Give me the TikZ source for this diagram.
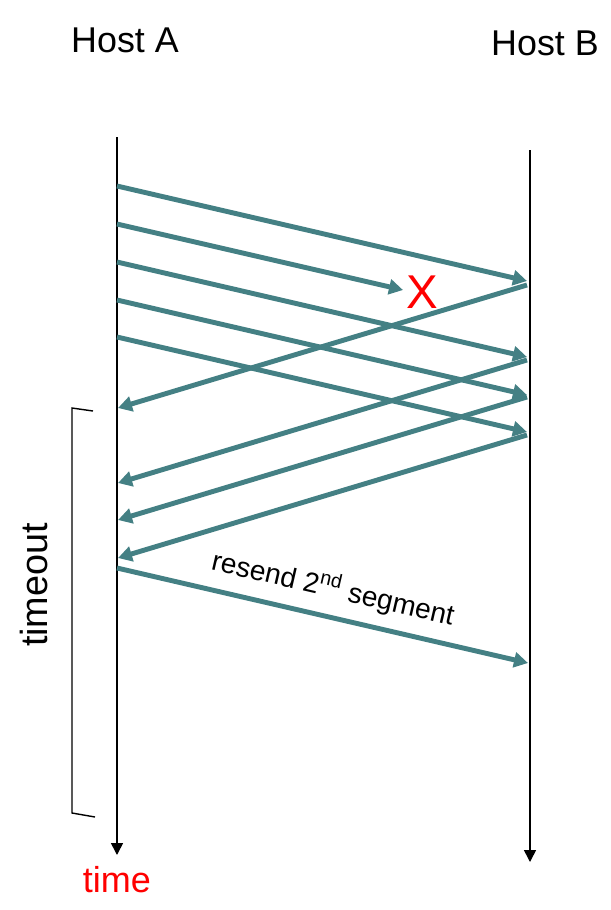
\documentclass[tikz,border=0pt]{standalone}
\usepackage{fontspec}
\setmainfont{Liberation Sans}
\usetikzlibrary{arrows.meta}
\definecolor{segteal}{RGB}{68,128,132}

\begin{document}
\begin{tikzpicture}[x=0.02cm, y=-0.02cm,
  lifeline/.style={line width=0.9pt, -{Triangle[length=0.24cm, width=0.24cm]}},
  seg/.style={draw=segteal, line width=2.8pt, -{Triangle[length=0.28cm, width=0.3cm]}},
  hostlbl/.style={font=\fontsize{20.4}{24}\selectfont}]
  \useasboundingbox (0,0) rectangle (610,910);

  % Hosts
  \node[hostlbl] (hA) at (125,40) {Host A};
  \node[hostlbl] (hB) at (545,43) {Host B};

  % Lifelines
  \coordinate (aTop) at (117,137);
  \coordinate (aEnd) at (117,855);
  \coordinate (bTop) at (530,150);
  \coordinate (bEnd) at (530,862);
  \draw[lifeline] (aTop) -- (aEnd);
  \draw[lifeline] (bTop) -- (bEnd);
  \node[text=red, font=\fontsize{20.5}{24}\selectfont] (tm) at (117,880) {time};

  % Segments A -> B
  \coordinate (s1) at (117,186);  \coordinate (r1) at (527,281);
  \coordinate (s2) at (117,224);  \coordinate (r2) at (403,290);
  \coordinate (s3) at (117,262);  \coordinate (r3) at (527,357);
  \coordinate (s4) at (117,300);  \coordinate (r4) at (527,395);
  \coordinate (s5) at (117,337);  \coordinate (r5) at (527,432);
  \draw[seg] (s1) -- (r1);
  \draw[seg] (s2) -- (r2);
  \draw[seg] (s3) -- (r3);
  \draw[seg] (s4) -- (r4);
  \draw[seg] (s5) -- (r5);
  \node[text=red, font=\fontsize{27}{30}\selectfont] (lost) at (422,292) {X};

  % ACKs B -> A
  \coordinate (k1) at (527,285);  \coordinate (g1) at (118,408);
  \coordinate (k2) at (527,360);  \coordinate (g2) at (118,483);
  \coordinate (k3) at (527,397);  \coordinate (g3) at (118,520);
  \coordinate (k4) at (527,435);  \coordinate (g4) at (118,558);
  \draw[seg] (k1) -- (g1);
  \draw[seg] (k2) -- (g2);
  \draw[seg] (k3) -- (g3);
  \draw[seg] (k4) -- (g4);

  % Resend
  \coordinate (s6) at (117,568);  \coordinate (r6) at (528,663);
  \draw[seg] (s6) -- (r6) node[pos=0.51, above=3pt, sloped, text=black, font=\fontsize{16}{18}\selectfont] (rs) {resend 2\textsuperscript{nd} segment};

  % Timeout bracket
  \coordinate (t1) at (93,411);
  \coordinate (t2) at (72,408);
  \coordinate (t3) at (72,813);
  \coordinate (t4) at (95,817);
  \draw[line width=0.8pt] (t1) -- (t2) -- (t3) -- (t4);
  \node[rotate=90, font=\fontsize{21.5}{24}\selectfont] (to) at (34,585) {timeout};
\end{tikzpicture}
\end{document}
